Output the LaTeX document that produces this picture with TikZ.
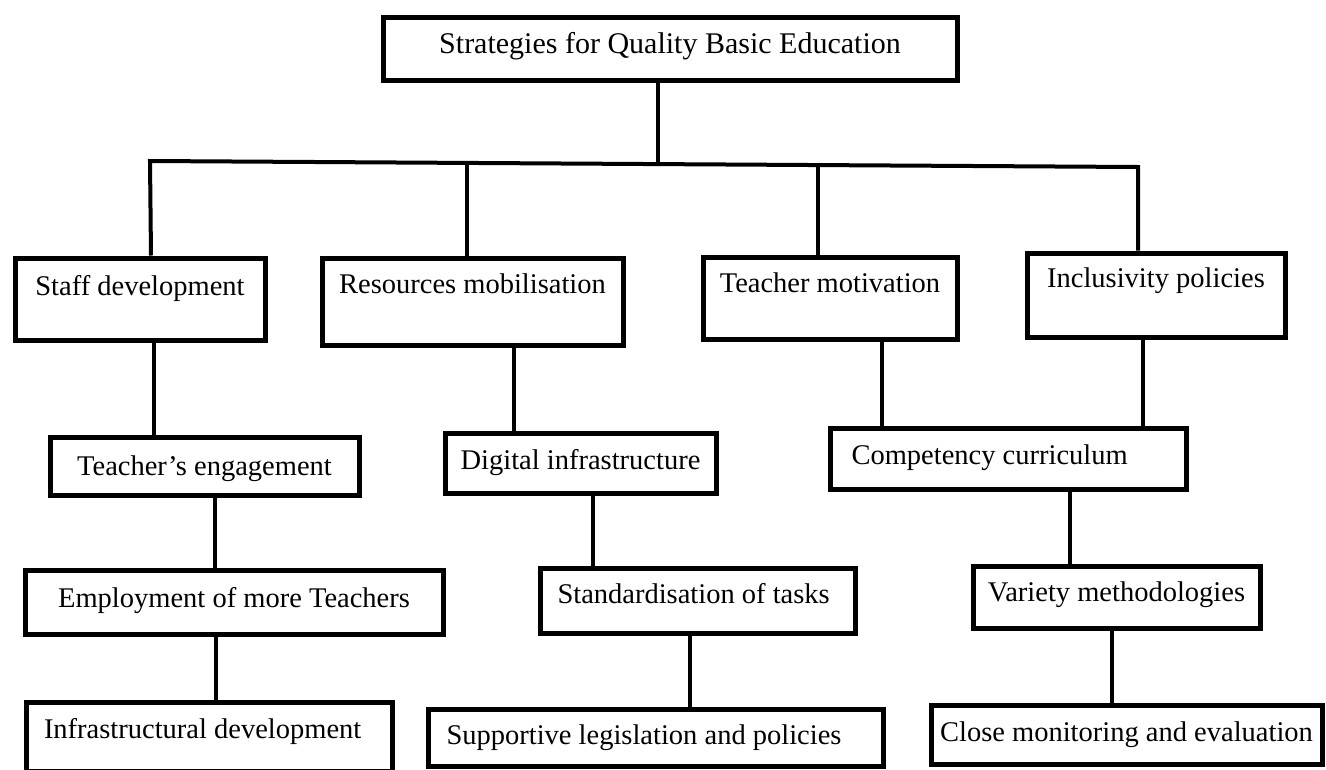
\documentclass[tikz,border=0pt]{standalone}
\usepackage{fontspec}
\setmainfont{Liberation Serif}

\begin{document}
\begin{tikzpicture}[x=1pt,y=-1pt,
    box/.style={draw,rectangle,line width=5pt,anchor=north west,inner xsep=0pt,inner ysep=0pt,font=\fontsize{28.5}{34}\selectfont},
    lbox/.style={box,align=flush left},
    link/.style={line width=4pt}]

\path[use as bounding box,fill=white] (0,0) rectangle (1326,769);

\node[box,minimum width=574pt,text height=36.5pt,text depth=26.5pt,font=\fontsize{30}{36}\selectfont] (top) at (380.5,14.5) {Strategies for Quality Basic Education};

\node[box,minimum width=250pt,text height=37.5pt,text depth=44.5pt] (staff) at (12.5,255.5) {Staff development};
\node[box,minimum width=301pt,text height=35.5pt,text depth=51.5pt] (res) at (319.5,255.5) {Resources mobilisation};
\node[box,minimum width=254pt,text height=35.5pt,text depth=46.5pt] (motiv) at (700.5,254.5) {Teacher motivation};
\node[box,minimum width=258pt,text height=34.5pt,text depth=49.5pt] (incl) at (1024.5,250.5) {Inclusivity policies};

\node[box,minimum width=309pt,text height=38.5pt,text depth=19.5pt] (engage) at (47.5,434.5) {Teacher’s engagement};
\node[box,minimum width=271pt,text height=36.5pt,text depth=23.5pt] (digital) at (442.5,430.5) {Digital infrastructure};
\node[lbox,text width=313pt,minimum width=356pt,text height=36.5pt,text depth=24.5pt] (curric) at (827.5,425.5) {Competency curriculum};

\node[box,minimum width=418pt,text height=37.5pt,text depth=26.5pt] (employ) at (22.5,567.5) {Employment of more Teachers};
\node[lbox,text width=280pt,minimum width=315pt,text height=35.5pt,text depth=29.5pt] (tasks) at (537.5,565.5) {Standardisation of tasks};
\node[box,minimum width=287pt,text height=35.5pt,text depth=26.5pt] (method) at (970.5,563.5) {Variety methodologies};

\node[lbox,text width=330pt,minimum width=366pt,text height=36.5pt,text depth=32.5pt] (infra) at (23.5,699.5) {Infrastructural development};
\node[lbox,text width=418pt,minimum width=455pt,text height=35.5pt,text depth=21.5pt] (legis) at (425.5,706.5) {Supportive legislation and policies};
\node[box,minimum width=391pt,text height=36.5pt,text depth=22.5pt] (monitor) at (928.5,702.5) {Close monitoring and evaluation};

% branching bar under the title
\coordinate (bar1) at (150,161);
\coordinate (bar2) at (467,163);
\coordinate (bar3) at (818,165);
\coordinate (bar4) at (1138,167);
\coordinate (barmid) at (658,164);

\draw[link] (658,0 |- top.south) -- (barmid);
\draw[link] (151,0 |- staff.north) -- (bar1) -- (bar4) -- (1138,0 |- incl.north);
\draw[link] (bar2) -- (467,0 |- res.north);
\draw[link] (bar3) -- (818,0 |- motiv.north);

\draw[link] (154,0 |- staff.south) -- (154,0 |- engage.north);
\draw[link] (514,0 |- res.south) -- (514,0 |- digital.north);
\draw[link] (882,0 |- motiv.south) -- (882,0 |- curric.north);
\draw[link] (1143,0 |- incl.south) -- (1143,0 |- curric.north);

\draw[link] (215,0 |- engage.south) -- (215,0 |- employ.north);
\draw[link] (593,0 |- digital.south) -- (593,0 |- tasks.north);
\draw[link] (1070,0 |- curric.south) -- (1070,0 |- method.north);

\draw[link] (216,0 |- employ.south) -- (216,0 |- infra.north);
\draw[link] (690,0 |- tasks.south) -- (690,0 |- legis.north);
\draw[link] (1112,0 |- method.south) -- (1112,0 |- monitor.north);
\end{tikzpicture}
\end{document}
